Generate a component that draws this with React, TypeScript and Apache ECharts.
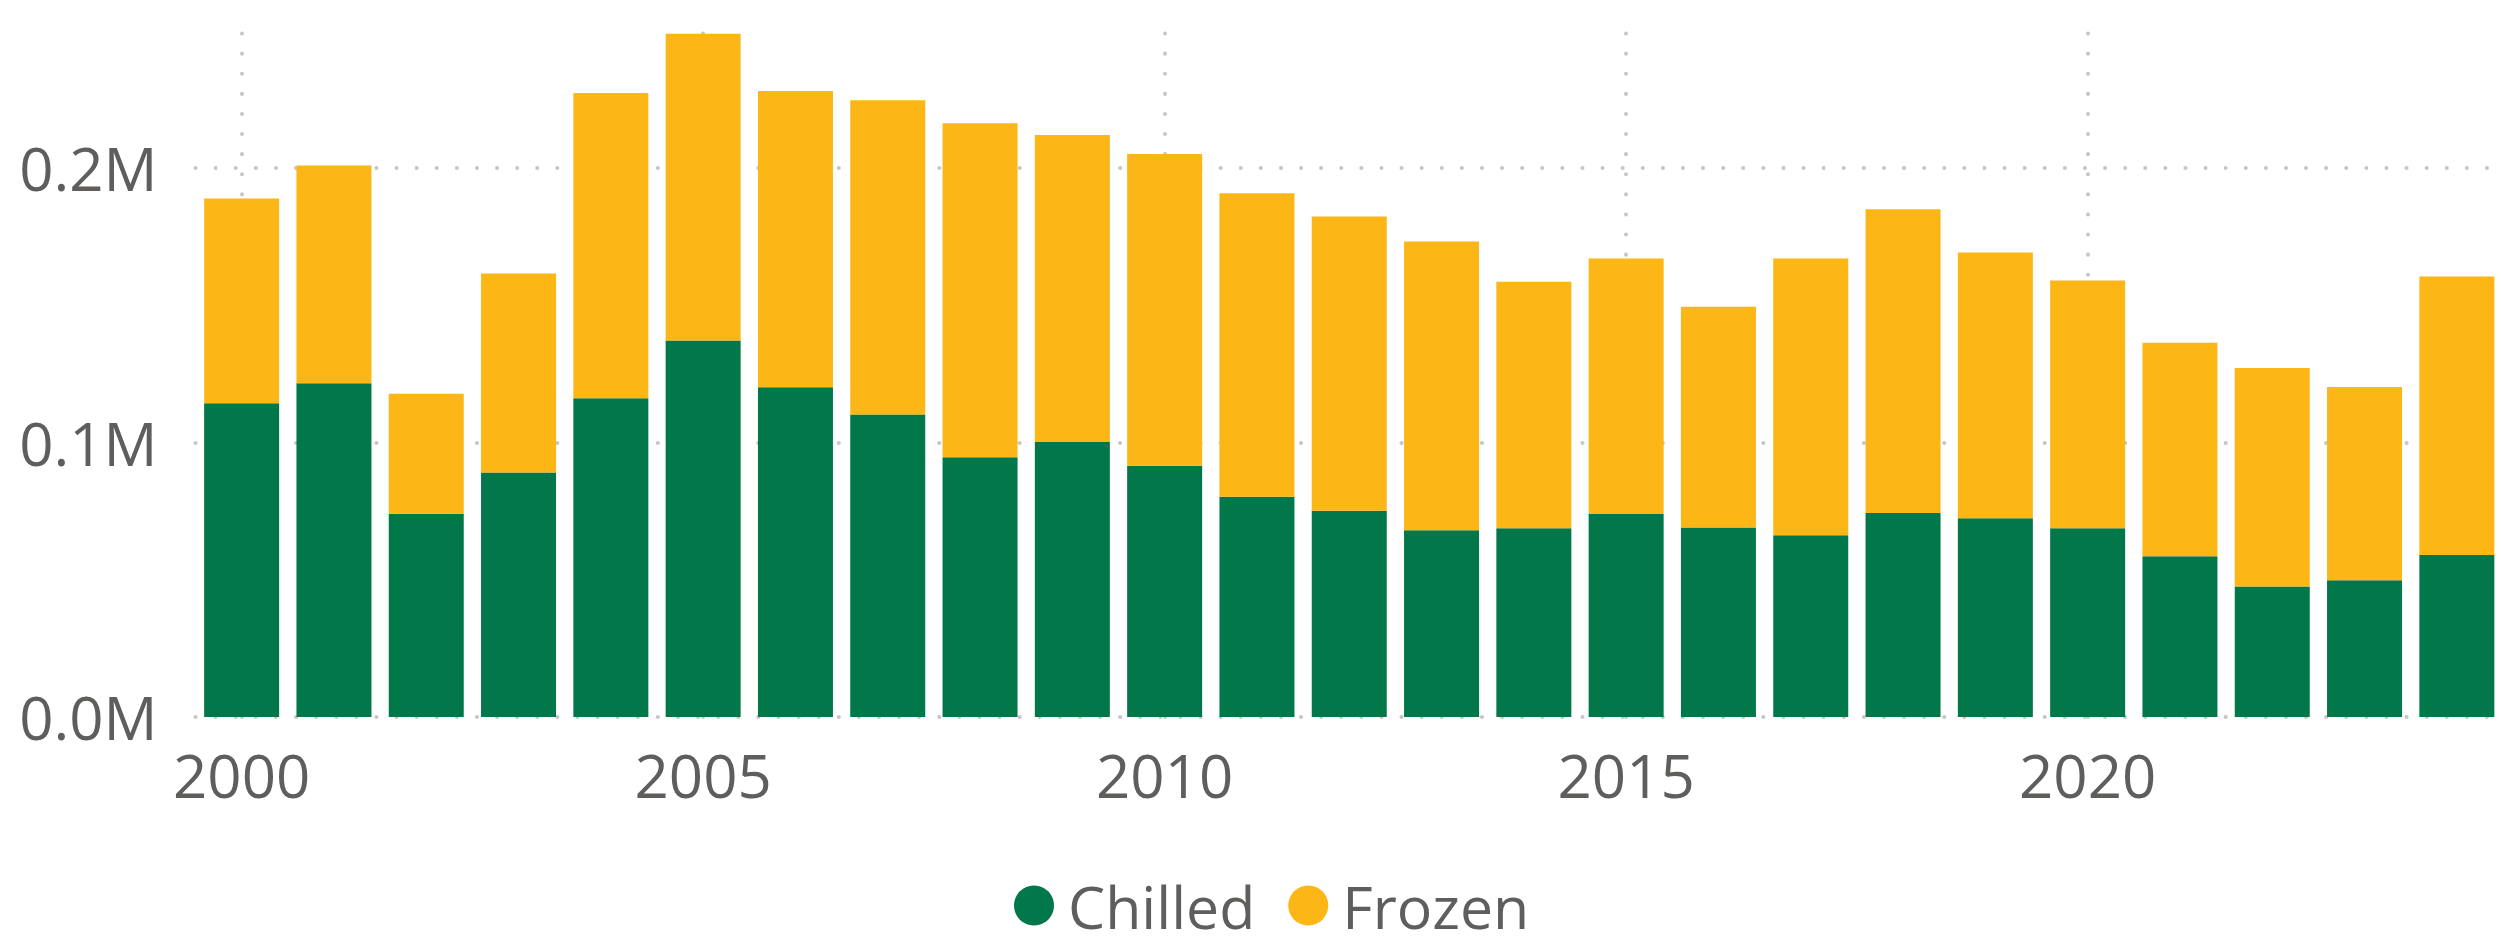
import React, { useEffect, useRef } from "react";
import * as echarts from "echarts";

const years = ["2000", "2001", "2002", "2003", "2004", "2005", "2006", "2007", "2008", "2009", "2010", "2011", "2012", "2013", "2014", "2015", "2016", "2017", "2018", "2019", "2020", "2021", "2022", "2023", "2024"];
const chilled = [114300, 121600, 74100, 89100, 116200, 137200, 120200, 110200, 94700, 100200, 91600, 80300, 75200, 68100, 68800, 74000, 69100, 66200, 74300, 72400, 68800, 58600, 47600, 49800, 59000];
const frozen = [74700, 79400, 43700, 72500, 111200, 111800, 107900, 114600, 121700, 111900, 113600, 110600, 107200, 105200, 89800, 93100, 80400, 100900, 110700, 96900, 90300, 77800, 79600, 70500, 101500];
const xTicks = ["2000", "2005", "2010", "2015", "2020"];
const yTicks = [0, 100000, 200000];
const seriesNames = ["Chilled", "Frozen"];

const GREEN = "#01774A";
const YELLOW = "#FCB615";
const TEXT = "#605E5C";
const GRID = "#C8C6C4";
const FONT = "'Open Sans', 'Noto Sans', sans-serif";

export default function App() {
  const ref = useRef<HTMLDivElement>(null);
  useEffect(() => {
    if (!ref.current) return;
    const chart = echarts.init(ref.current, null, { renderer: "svg" });
    const dotted = { color: GRID, width: 4, type: [0.1, 20] as number[], cap: "round" as const };
    chart.setOption({
      animation: false,
      textStyle: { fontFamily: FONT },
      grid: { left: 195.5, right: -5.5, top: 31, bottom: 221, containLabel: false },
      legend: {
        data: seriesNames,
        left: 1014,
        top: 876,
        padding: 0,
        icon: "circle",
        itemWidth: 40,
        itemHeight: 40,
        itemGap: 33,
        textStyle: { fontSize: 59, lineHeight: 56, color: TEXT, fontFamily: FONT, padding: [0, 0, 0, 9] },
      },
      xAxis: {
        type: "category",
        data: years,
        boundaryGap: true,
        axisLine: { show: false },
        axisTick: { show: false },
        splitLine: { show: false },
        axisLabel: {
          interval: 0,
          fontSize: 60,
          color: TEXT,
          fontFamily: FONT,
          margin: 28,
          formatter: (v: string) => (xTicks.includes(v) ? v : ""),
        },
      },
      yAxis: {
        type: "value",
        min: 0,
        max: 250000,
        interval: 100000,
        axisLine: { show: false },
        axisTick: { show: false },
        splitLine: { show: false },
        axisLabel: {
          fontSize: 60,
          color: TEXT,
          fontFamily: FONT,
          margin: 38,
          formatter: (v: number) => (yTicks.includes(v) ? (v / 1000000).toFixed(1) + "M" : ""),
        },
      },
      series: [
        {
          name: seriesNames[0],
          type: "bar",
          stack: "total",
          barWidth: 75,
          itemStyle: { color: GREEN },
          data: chilled,
          markLine: {
            z: 0,
            silent: true,
            symbol: "none",
            label: { show: false },
            lineStyle: dotted,
            data: [
              ...xTicks.map((x) => ({ xAxis: x })),
              ...yTicks.map((y) => ({ yAxis: y })),
            ],
          },
        },
        {
          name: seriesNames[1],
          type: "bar",
          stack: "total",
          barWidth: 75,
          itemStyle: { color: YELLOW },
          data: frozen,
        },
      ],
    });
    return () => chart.dispose();
  }, []);
  return (
    <div
      ref={ref}
      style={{ position: "absolute", left: 0, top: 0, width: 2503, height: 938, background: "#fff" }}
    />
  );
}
